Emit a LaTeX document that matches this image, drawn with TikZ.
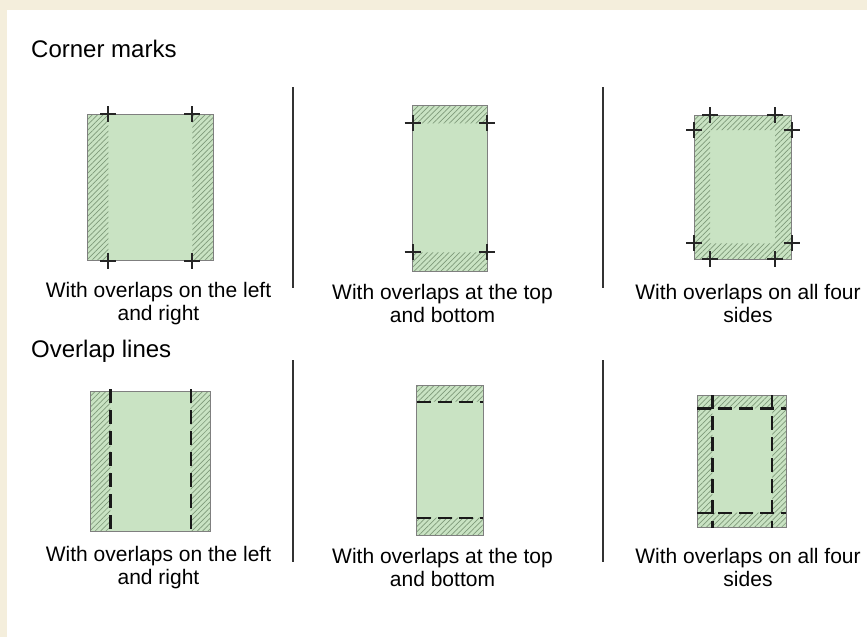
\documentclass[tikz,border=0pt]{standalone}
\usepackage{fontspec}
\setmainfont{Liberation Sans}
\usetikzlibrary{patterns.meta}
\definecolor{paper}{HTML}{F4EEDC}
\definecolor{sheetgreen}{HTML}{C9E3C3}
\definecolor{hatch}{HTML}{7F9A7A}
\definecolor{edge}{HTML}{7F7F7F}

\tikzset{
  cropcross/.pic={\draw[cropmark] (-8,0) -- (8,0) (0,-8) -- (0,8);}
}

\begin{document}
\begin{tikzpicture}[x=1pt, y=-1pt,
    sheet/.style={fill=sheetgreen},
    overlap/.style={pattern={Lines[angle=45,distance=3.8pt,line width=0.7pt]}, pattern color=hatch},
    outline/.style={draw=edge, line width=1pt},
    cropmark/.style={draw=black!85, line width=2pt},
    overlapline/.style={draw=black!90, line width=2.4pt, dash pattern=on 14pt off 7pt},
    divider/.style={draw=black!80, line width=1.8pt},
    heading/.style={anchor=west, inner sep=0pt, font=\fontsize{24}{28}\selectfont},
    caption/.style={align=center, inner sep=0pt, font=\fontsize{21}{23.5}\selectfont}]
  \fill[paper] (0,0) rectangle (867,637);
  \fill[white] (7,10) rectangle (867,637);
  \useasboundingbox (0,0) rectangle (867,637);

  % corner marks
  \node[heading] (cornerhead) at (31,48.5) {Corner marks};

  \fill[sheet] (87.3,114) rectangle (213.3,260.7);
  \fill[overlap] (87.3,114) rectangle (108.3,260.7) (192.3,114) rectangle (213.3,260.7);
  \draw[outline] (87.3,114) rectangle (213.3,260.7);
  \pic at (108.3,114) {cropcross};
  \pic at (192.3,114) {cropcross};
  \pic at (108.3,260.7) {cropcross};
  \pic at (192.3,260.7) {cropcross};
  \node[caption] (cornerlr) at (158.5,303.5) {With overlaps on the left\\and right};

  \fill[sheet] (412.7,105.3) rectangle (487.3,271.3);
  \fill[overlap] (412.7,105.3) rectangle (487.3,123.3) (412.7,252.3) rectangle (487.3,271.3);
  \draw[outline] (412.7,105.3) rectangle (487.3,271.3);
  \pic at (412.7,123.3) {cropcross};
  \pic at (487.3,123.3) {cropcross};
  \pic at (412.7,252.3) {cropcross};
  \pic at (487.3,252.3) {cropcross};
  \node[caption] (cornertb) at (442.5,303.5) {With overlaps at the top\\and bottom};

  \fill[sheet] (694,115) rectangle (791.7,259.3);
  \fill[overlap, even odd rule] (694,115) rectangle (791.7,259.3) (710,130) rectangle (775,243.3);
  \draw[outline] (694,115) rectangle (791.7,259.3);
  \pic at (710,115) {cropcross};
  \pic at (775,115) {cropcross};
  \pic at (694,130) {cropcross};
  \pic at (791.7,130) {cropcross};
  \pic at (694,243.3) {cropcross};
  \pic at (791.7,243.3) {cropcross};
  \pic at (710,259.3) {cropcross};
  \pic at (775,259.3) {cropcross};
  \node[caption] (cornerall) at (748,303.5) {With overlaps on all four\\sides};

  \draw[divider] (293.3,87.3) -- (293.3,288);
  \draw[divider] (603.3,87.3) -- (603.3,288);

  % overlap lines
  \node[heading] (linehead) at (31,351.7) {Overlap lines};

  \fill[sheet] (90,391.3) rectangle (210.7,531.7);
  \fill[overlap] (90,391.3) rectangle (110.3,531.7) (190.7,391.3) rectangle (210.7,531.7);
  \draw[outline] (90,391.3) rectangle (210.7,531.7);
  \draw[overlapline] (110.3,389) -- (110.3,531.7);
  \draw[overlapline] (190.7,389) -- (190.7,531.7);
  \node[caption] (linelr) at (158.5,567.5) {With overlaps on the left\\and right};

  \fill[sheet] (416.7,385.3) rectangle (483.3,535.3);
  \fill[overlap] (416.7,385.3) rectangle (483.3,401.7) (416.7,517.7) rectangle (483.3,535.3);
  \draw[outline] (416.7,385.3) rectangle (483.3,535.3);
  \draw[overlapline] (416.7,401.7) -- (483.3,401.7);
  \draw[overlapline] (416.7,517.7) -- (483.3,517.7);
  \node[caption] (linetb) at (442.5,567.5) {With overlaps at the top\\and bottom};

  \fill[sheet] (697.3,395) rectangle (786,527.7);
  \fill[overlap, even odd rule] (697.3,395) rectangle (786,527.7) (712.3,408.3) rectangle (772,512.7);
  \draw[outline] (697.3,395) rectangle (786,527.7);
  \draw[overlapline] (712.3,395) -- (712.3,527.7);
  \draw[overlapline] (772,395) -- (772,527.7);
  \draw[overlapline] (697.3,408.3) -- (786,408.3);
  \draw[overlapline] (697.3,512.7) -- (786,512.7);
  \node[caption] (lineall) at (748,567.5) {With overlaps on all four\\sides};

  \draw[divider] (293.3,360) -- (293.3,562);
  \draw[divider] (603.3,360) -- (603.3,562);
\end{tikzpicture}
\end{document}
